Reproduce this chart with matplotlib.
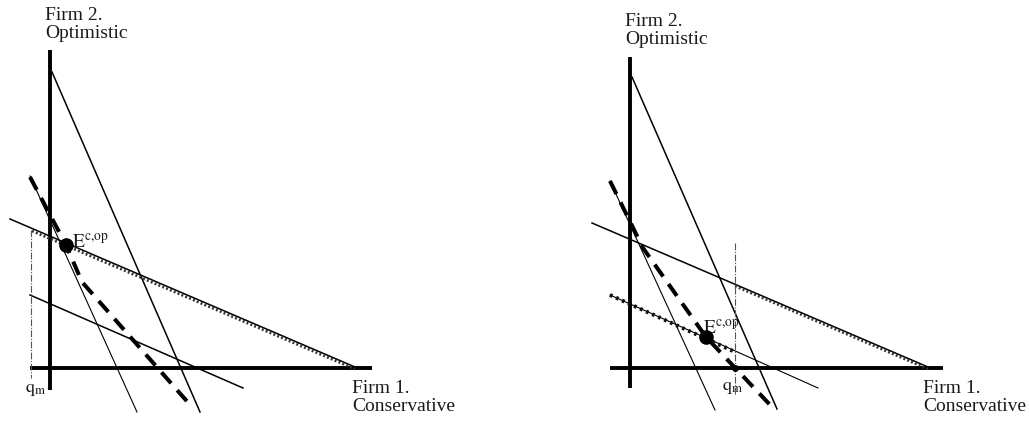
import matplotlib
matplotlib.use("Agg")
import matplotlib.pyplot as plt

plt.rcParams['font.family'] = ['Liberation Serif', 'DejaVu Serif']
plt.rcParams['mathtext.fontset'] = 'stix'

# ---- data (diagram units: px from the axes origin, y up) ----
# Left panel
L_vaxis_y = [-22, 318]
L_haxis_x = [-20, 322]
L_A_x, L_A_y = [2, 150], [296, -44]          # steep reaction line
L_B_x, L_B_y = [-40, 305], [149, 1]          # shallow reaction line
L_Bdot_x, L_Bdot_y = [-18, 305], [137, -1]   # dotted along B
L_F_x, L_F_y = [-20, 193], [73, -20]         # lower shallow line
L_D_x, L_D_y = [-20, 87], [192, -44]         # thin steep line
L_C_x, L_C_y = [-20, 16, 32, 142], [191, 123, 86, -39]  # thick dashed
L_qm_x, L_qm_y = [-19, -19], [138, -10]
L_E = (16, 123)

# Right panel
R_vaxis_y = [-20, 311]
R_haxis_x = [-20, 313]
R_A_x, R_A_y = [2, 147], [291, -41]
R_B_x, R_B_y = [-38, 298], [145, 1]
R_Bdot_x, R_Bdot_y = [105, 298], [82, -1]
R_H_x, R_H_y = [-20, 188], [73, -20]
R_G_x, R_G_y = [-20, 103], [73, 17]
R_D_x, R_D_y = [-20, 85], [187, -42]
R_C_x, R_C_y = [-20, 13, 76, 143], [187, 120, 31, -40]
R_qm_x, R_qm_y = [105, 105], [125, -27]
R_E = (76, 31)
R_qdot = (105, 0)

fig = plt.figure(figsize=(10.29, 4.21), dpi=100)
W, H = 1029, 421

def make_ax(left_px, width_px, origin_px):
    ax = fig.add_axes([left_px / W, 0, width_px / W, 1])
    ox, oy = origin_px
    lx = ox - left_px
    ax.set_xlim(-lx, width_px - lx)
    ax.set_ylim(-(H - oy), oy)
    ax.axis('off')
    return ax

axL = make_ax(0, 514, (50, 368))
axR = make_ax(514, 515, (630, 368))

AX_LW = 2.8
THIN = 1.1
THINNER = 0.8
dash_style = (0, (3.6, 2.3))
txt_color = '#1a1a1a'
fs = 14
E_label = r'$\mathrm{E}^{\mathrm{c{,}op}}$'
qm_label = r'$\mathrm{q}_{\mathrm{m}}$'

def common(ax, vy, hx, A, B, D, C, E):
    ax.plot([0, 0], vy, color='black', lw=AX_LW, solid_capstyle='butt')
    ax.plot(hx, [0, 0], color='black', lw=AX_LW, solid_capstyle='butt')
    ax.plot(*A, color='black', lw=THIN)
    ax.plot(*B, color='black', lw=THIN)
    ax.plot(*D, color='black', lw=THINNER)
    ax.plot(*C, color='black', lw=2.9, linestyle=dash_style)
    ax.plot([E[0]], [E[1]], 'o', color='black', markersize=9.5, zorder=5)

# Left
common(axL, L_vaxis_y, L_haxis_x, (L_A_x, L_A_y), (L_B_x, L_B_y),
       (L_D_x, L_D_y), (L_C_x, L_C_y), L_E)
axL.plot(L_Bdot_x, L_Bdot_y, color='#333333', lw=2.0, linestyle=(0, (0.7, 0.8)))
axL.plot(L_F_x, L_F_y, color='black', lw=THIN)
axL.plot(L_qm_x, L_qm_y, color='#555555', lw=0.8, linestyle=(0, (6, 1.5, 1, 1.5)))
axL.text(L_E[0] + 6, L_E[1] - 2, E_label, fontsize=fs,
         color=txt_color, ha='left', va='baseline')
axL.text(L_qm_x[0] + 5, -22, qm_label, fontsize=13,
         color=txt_color, ha='center', va='center')
axL.text(-5, 361, 'Firm 2.\nOptimistic', fontsize=fs, color=txt_color,
         ha='left', va='top', linespacing=1.05)
axL.text(302, -12, 'Firm 1.\nConservative', fontsize=fs, color=txt_color,
         ha='left', va='top', linespacing=1.05)

# Right
common(axR, R_vaxis_y, R_haxis_x, (R_A_x, R_A_y), (R_B_x, R_B_y),
       (R_D_x, R_D_y), (R_C_x, R_C_y), R_E)
axR.plot(R_Bdot_x, R_Bdot_y, color='#333333', lw=2.0, linestyle=(0, (0.7, 0.8)))
axR.plot(R_H_x, R_H_y, color='black', lw=THINNER)
axR.plot(R_G_x, R_G_y, color='#111111', lw=2.8, linestyle=(0, (0.7, 1.0)))
axR.plot(R_qm_x, R_qm_y, color='#555555', lw=0.8, linestyle=(0, (6, 1.5, 1, 1.5)))
axR.plot([R_qdot[0]], [R_qdot[1]], 'o', color='black', markersize=4, zorder=5)
axR.text(R_E[0] - 3, R_E[1] + 4, E_label, fontsize=fs,
         color=txt_color, ha='left', va='baseline')
axR.text(R_qm_x[0] - 2, -20, qm_label, fontsize=13,
         color=txt_color, ha='center', va='center')
axR.text(-5, 355, 'Firm 2.\nOptimistic', fontsize=fs, color=txt_color,
         ha='left', va='top', linespacing=1.05)
axR.text(293, -12, 'Firm 1.\nConservative', fontsize=fs, color=txt_color,
         ha='left', va='top', linespacing=1.05)

fig.savefig('out.png', dpi=100, facecolor='white')
